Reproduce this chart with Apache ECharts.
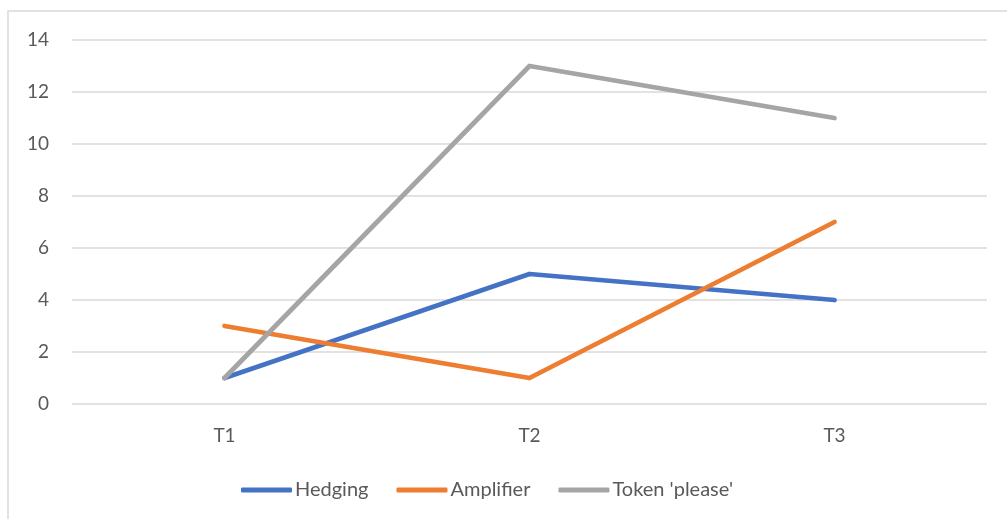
<!DOCTYPE html>
<html>
<head>
<meta charset="utf-8">
<script src="https://cdn.jsdelivr.net/npm/echarts@6/dist/echarts.min.js"></script>
<style>
  html, body { margin: 0; padding: 0; background: #fff; }
  #chart { width: 1007px; height: 519px; }
</style>
</head>
<body>
<div id="chart"></div>
<script>
// Categories and series values
const categories = ['T1', 'T2', 'T3'];
const hedging = [1, 5, 4];
const amplifier = [3, 1, 7];
const tokenPlease = [1, 13, 11];
const seriesNames = ['Hedging', 'Amplifier', "Token 'please'"];
const colors = ['#4472C4', '#ED7D31', '#A5A5A5'];

const chart = echarts.init(document.getElementById('chart'), null, { renderer: 'canvas' });
const font = 'Lato, "Open Sans", sans-serif';

function lineSeries(name, data, color) {
  return {
    name: name,
    type: 'line',
    data: data,
    symbol: 'none',
    lineStyle: { color: color, width: 4.75, cap: 'round', join: 'round' },
    itemStyle: { color: color },
    emphasis: { disabled: true },
    animation: false
  };
}

chart.setOption({
  animation: false,
  graphic: [{
    type: 'rect',
    shape: { x: 8, y: 11, width: 1010, height: 520 },
    style: { fill: 'none', stroke: '#d9d9d9', lineWidth: 1.5 },
    silent: true
  }],
  grid: { left: 72, right: 20, top: 40, bottom: 115, containLabel: false },
  legend: {
    data: seriesNames,
    top: 475,
    left: 236,
    icon: 'roundRect',
    itemWidth: 51,
    itemHeight: 5,
    itemGap: 28,
    textStyle: { color: '#595959', fontSize: 20, fontFamily: font, padding: [0, 0, 0, -2] }
  },
  xAxis: {
    type: 'category',
    data: categories,
    boundaryGap: true,
    axisLine: { show: false },
    axisTick: { show: false },
    axisLabel: { color: '#595959', fontSize: 19, fontFamily: font, margin: 22 }
  },
  yAxis: {
    type: 'value',
    min: 0,
    max: 14,
    interval: 2,
    axisLine: { show: false },
    axisTick: { show: false },
    axisLabel: { color: '#595959', fontSize: 19, fontFamily: font, margin: 23 },
    splitLine: { lineStyle: { color: '#d9d9d9', width: 1.5 } }
  },
  series: [
    lineSeries(seriesNames[0], hedging, colors[0]),
    lineSeries(seriesNames[1], amplifier, colors[1]),
    lineSeries(seriesNames[2], tokenPlease, colors[2])
  ]
});
</script>
</body>
</html>
